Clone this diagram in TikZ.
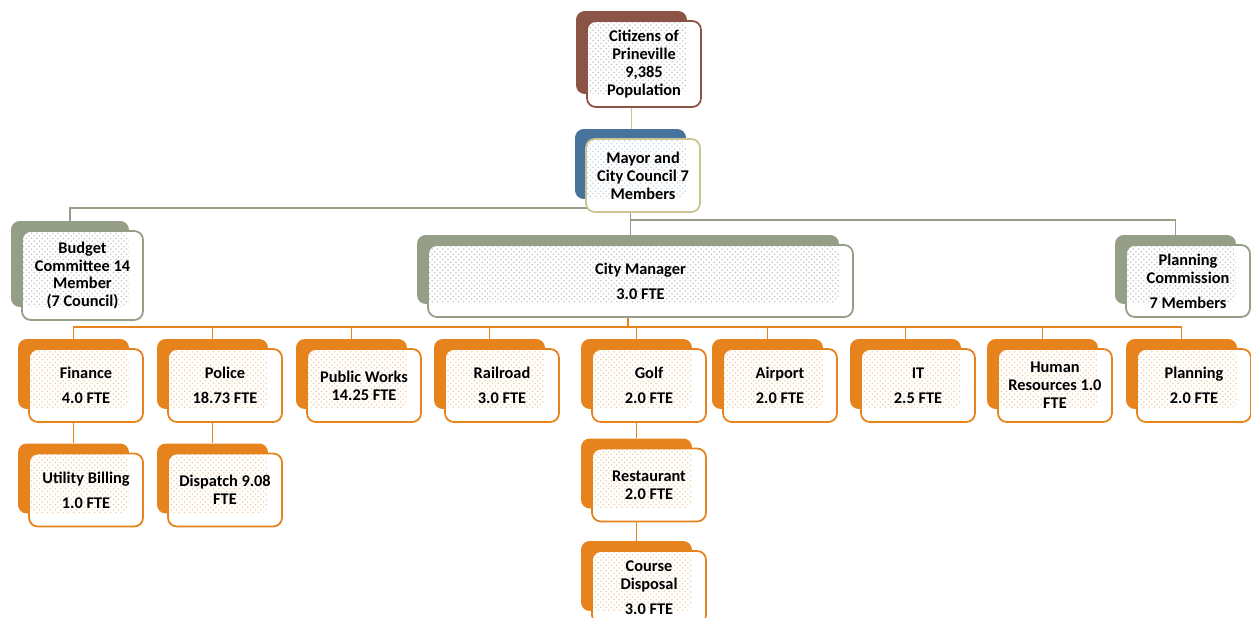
\documentclass[tikz,border=0pt]{standalone}
\usepackage{fontspec}
\setmainfont{Carlito}
\usetikzlibrary{patterns, backgrounds}
\definecolor{citbrown}{HTML}{8C5444}
\definecolor{maysteel}{HTML}{46749C}
\definecolor{maykhaki}{HTML}{CBC493}
\definecolor{sage}{HTML}{959E86}
\definecolor{deptorange}{HTML}{E6831C}
\begin{document}
\begin{tikzpicture}
        [x=0.02cm, y=-0.02cm,
        font=\fontsize{9.3}{10.2}\selectfont\bfseries,
        boxback/.style={rounded corners=5pt, fill=#1, inner sep=0pt},
        boxfront/.style 2 args={rounded corners=5pt, draw=#1, fill=white, line width=1pt,
           inner sep=0pt, align=center,
           path picture={\fill[pattern=crosshatch dots, pattern color=#2]
              (path picture bounding box.north west) rectangle
              ([shift={(-14,-13)}]path picture bounding box.south east);}},
        deptback/.style={boxback=deptorange, minimum width=2.22cm, minimum height=1.40cm},
        dept/.style={boxfront={deptorange}{deptorange!38}, minimum width=2.28cm, minimum height=1.46cm},
        glink/.style={draw=sage, line width=0.8pt},
        olink/.style={draw=deptorange, line width=1pt}]
        \useasboundingbox (0,0) rectangle (1251,618);
        \clip (0,0) rectangle (1251,618);
        % top of the chart
        \node (cit-b) at (631.5, 52.5) [boxback=citbrown, minimum width=2.22cm, minimum height=1.66cm] {};
        \node (cit) at ([shift={(12.5,11.5)}]cit-b) [boxfront={citbrown}{black!22}, minimum width=2.28cm, minimum height=1.72cm]
           {Citizens of\\Prineville\\9,385\\Population};
        \node (may-b) at (630.5, 164) [boxback=maysteel, minimum width=2.22cm, minimum height=1.40cm] {};
        \node (may) at ([shift={(12.5,11.5)}]may-b) [boxfront={maykhaki}{maysteel!30}, minimum width=2.28cm, minimum height=1.46cm]
           {Mayor and\\City Council 7\\Members};
        \node (bud-b) at (70, 264) [boxback=sage, minimum width=2.36cm, minimum height=1.72cm] {};
        \node (bud) at ([shift={(12.5,11.5)}]bud-b) [boxfront={sage}{black!22}, minimum width=2.42cm, minimum height=1.78cm]
           {Budget\\Committee 14\\Member\\(7 Council)};
        \node (cm-b) at (628, 269.5) [boxback=sage, minimum width=8.44cm, minimum height=1.38cm] {};
        \node (cm) at ([shift={(12.5,11.5)}]cm-b) [boxfront={sage}{black!22}, minimum width=8.50cm, minimum height=1.44cm]
           {City Manager\\[4pt]3.0 FTE};
        \node (pc-b) at (1175.5, 269.5) [boxback=sage, minimum width=2.42cm, minimum height=1.38cm] {};
        \node (pc) at ([shift={(12.5,11.5)}]pc-b) [boxfront={sage}{black!22}, minimum width=2.48cm, minimum height=1.44cm]
           {Planning\\Commission\\[4pt]7 Members};
        % departments
        \node (fin-b) at (73.5, 374) [deptback] {};
        \node (fin) at ([shift={(12.5,11.5)}]fin-b) [dept] {Finance\\[4pt]4.0 FTE};
        \node (pol-b) at (212.5, 374) [deptback] {};
        \node (pol) at ([shift={(12.5,11.5)}]pol-b) [dept] {Police\\[4pt]18.73 FTE};
        \node (pw-b) at (351.5, 374) [deptback] {};
        \node (pw) at ([shift={(12.5,11.5)}]pw-b) [dept] {Public Works\\14.25 FTE};
        \node (rr-b) at (489.5, 374) [deptback] {};
        \node (rr) at ([shift={(12.5,11.5)}]rr-b) [dept] {Railroad\\[4pt]3.0 FTE};
        \node (golf-b) at (636.5, 374) [deptback] {};
        \node (golf) at ([shift={(12.5,11.5)}]golf-b) [dept] {Golf\\[4pt]2.0 FTE};
        \node (air-b) at (767.5, 374) [deptback] {};
        \node (air) at ([shift={(12.5,11.5)}]air-b) [dept] {Airport\\[4pt]2.0 FTE};
        \node (it-b) at (905.5, 374) [deptback] {};
        \node (it) at ([shift={(12.5,11.5)}]it-b) [dept] {IT\\[4pt]2.5 FTE};
        \node (hr-b) at (1042.5, 374) [deptback] {};
        \node (hr) at ([shift={(12.5,11.5)}]hr-b) [dept] {Human\\Resources 1.0\\FTE};
        \node (plan-b) at (1181.5, 374) [deptback] {};
        \node (plan) at ([shift={(12.5,11.5)}]plan-b) [dept] {Planning\\[4pt]2.0 FTE};
        % sub units
        \node (ub-b) at (73.5, 478.5) [deptback] {};
        \node (ub) at ([shift={(12.5,11.5)}]ub-b) [dept] {Utility Billing\\[4pt]1.0 FTE};
        \node (disp-b) at (212.5, 478.5) [deptback] {};
        \node (disp) at ([shift={(12.5,11.5)}]disp-b) [dept] {Dispatch 9.08\\FTE};
        \node (rest-b) at (636.5, 473.5) [deptback] {};
        \node (rest) at ([shift={(12.5,11.5)}]rest-b) [dept] {Restaurant\\2.0 FTE};
        \node (cd-b) at (636.5, 576) [deptback] {};
        \node (cd) at ([shift={(12.5,11.5)}]cd-b) [dept] {Course\\Disposal\\[4pt]3.0 FTE};
        % connectors
        \begin{scope}[on background layer]
           \draw[draw=maykhaki, line width=0.8pt] (cit-b) -- (cit-b |- may-b.north);
           \draw[glink] (may-b) -- ++(0,44) -| (bud-b.north);
           \draw[glink] (may-b) -- ++(0,56) -| (pc-b.north);
           \draw[glink] (may-b) -- (may-b |- cm-b.north);
           \foreach \d in {fin,pol,pw,rr,golf,air,it,hr,plan}
              \draw[olink] (cm-b) -- ++(0,57.5) -| (\d-b.north);
           \draw[olink] (fin-b) -- (ub-b.north);
           \draw[olink] (pol-b) -- (disp-b.north);
           \draw[olink] (golf-b) -- (rest-b.north);
           \draw[olink] (rest-b) -- (cd-b.north);
        \end{scope}
     \end{tikzpicture}
\end{document}
